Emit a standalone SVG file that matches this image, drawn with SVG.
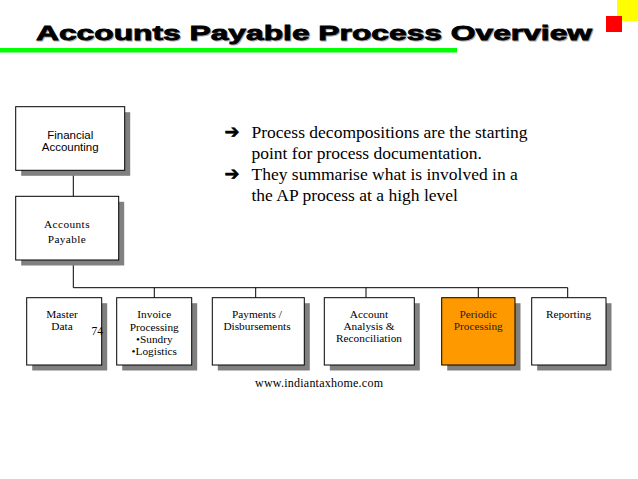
<svg xmlns="http://www.w3.org/2000/svg" width="638" height="479" viewBox="0 0 638 479">
<style>
.box{fill:#fff;stroke:#000;stroke-width:1}
.shadow{fill:#808080}
.sans{font-family:"Liberation Sans",Arial,sans-serif;font-size:11.5px;fill:#000;text-anchor:middle}
.serif{font-family:"Liberation Serif","Times New Roman",serif;font-size:11.3px;fill:#000;text-anchor:middle}
.plain{font-family:"Liberation Serif","Times New Roman",serif;fill:#000;text-anchor:start}
.bullet{font-family:"Liberation Serif","Times New Roman",serif;font-size:17.5px;fill:#000}
.arrow{font-family:"DejaVu Sans",sans-serif;font-size:18px;font-weight:bold;fill:#000;stroke:#000;stroke-width:0.6}
.conn{stroke:#000;stroke-width:1;fill:none}
</style>
<rect width="638" height="479" fill="#fff"/>
<g id="decor">
<rect x="617" y="0" width="21" height="21" fill="#FFFF00"/>
<rect x="606" y="16" width="16" height="16" fill="#FF0000"/>
<rect x="0" y="48" width="457" height="4.5" fill="#00FF00"/>
</g>
<g id="title" font-family="'Liberation Sans',Arial,sans-serif" font-weight="bold" font-size="21">
<text x="37" y="41" fill="#aaa" stroke="#aaa" stroke-width="0.8" textLength="556" lengthAdjust="spacingAndGlyphs">Accounts Payable Process Overview</text>
<text x="36" y="40" fill="#000" stroke="#000" stroke-width="0.8" textLength="556" lengthAdjust="spacingAndGlyphs">Accounts Payable Process Overview</text>
</g>
<g id="connectors">
<path class="conn" d="M73.3 170.3V196.3M73.3 260V287.7M73.3 287.7H567.7M154.3 287.7V297.7M255.7 287.7V297.7M366 287.7V297.7M478.3 287.7V297.7M567.7 287.7V297.7"/>
</g>
<g id="financial-accounting">
<rect class="shadow" x="21.2" y="112.2" width="109" height="63.6"/>
<rect class="box" x="15.7" y="106.7" width="109" height="63.6"/>
<text class="sans" x="70.2" y="139">Financial</text>
<text class="sans" x="70.2" y="150.5">Accounting</text>
</g>
<g id="accounts-payable">
<rect class="shadow" x="21.2" y="201.8" width="103" height="63.7"/>
<rect class="box" x="15.7" y="196.3" width="103" height="63.7"/>
<text class="serif" x="67" y="228.3" font-size="12" letter-spacing="0.4">Accounts</text>
<text class="serif" x="67" y="242.7" font-size="12" letter-spacing="0.4">Payable</text>
</g>
<g id="master-data">
<rect class="shadow" x="32.2" y="303.2" width="75" height="67.3"/>
<rect class="box" x="26.7" y="297.7" width="75" height="67.3"/>
<text class="serif" x="62" y="318.3">Master</text>
<text class="serif" x="62" y="330.3">Data</text>
</g>
<g id="invoice-processing">
<rect class="shadow" x="122.2" y="303.2" width="75" height="67.3"/>
<rect class="box" x="116.7" y="297.7" width="75" height="67.3"/>
<text class="serif" x="154.3" y="318.3">Invoice</text>
<text class="serif" x="154.3" y="330.5">Processing</text>
<text class="serif" x="154.3" y="342.5">•Sundry</text>
<text class="serif" x="154.3" y="354.8">•Logistics</text>
</g>
<g id="payments">
<rect class="shadow" x="217.8" y="303.2" width="92" height="67.3"/>
<rect class="box" x="212.3" y="297.7" width="92" height="67.3"/>
<text class="serif" x="257" y="318.3">Payments /</text>
<text class="serif" x="257" y="330.3">Disbursements</text>
</g>
<g id="account-analysis">
<rect class="shadow" x="329.8" y="303.2" width="90" height="67.3"/>
<rect class="box" x="324.3" y="297.7" width="90" height="67.3"/>
<text class="serif" x="369" y="318.3">Account</text>
<text class="serif" x="369" y="330.3">Analysis &amp;</text>
<text class="serif" x="369" y="342">Reconciliation</text>
</g>
<g id="periodic-processing">
<rect class="shadow" x="447.2" y="303.2" width="73.3" height="67.3"/>
<rect class="box" x="441.7" y="297.7" width="73.3" height="67.3" style="fill:#FF9900"/>
<text class="serif" x="478.3" y="317.5" style="fill:#222">Periodic</text>
<text class="serif" x="478.3" y="329.5" style="fill:#222">Processing</text>
</g>
<g id="reporting">
<rect class="shadow" x="537.2" y="303.2" width="74.3" height="67.3"/>
<rect class="box" x="531.7" y="297.7" width="74.3" height="67.3"/>
<text class="serif" x="568.5" y="318.3">Reporting</text>
</g>
<g id="notes">
<text class="arrow" x="224.5" y="137.5">➔</text>
<text class="bullet" x="251.5" y="137.5">Process decompositions are the starting</text>
<text class="bullet" x="251.5" y="158.5">point for process documentation.</text>
<text class="arrow" x="224.5" y="179.5">➔</text>
<text class="bullet" x="251.5" y="179.5">They summarise what is involved in a</text>
<text class="bullet" x="251.5" y="200.5">the AP process at a high level</text>
<text class="plain" x="91.5" y="335" font-size="11.5">74</text>
<text class="plain" x="255" y="387.3" font-size="12" textLength="128">www.indiantaxhome.com</text>
</g>
</svg>
